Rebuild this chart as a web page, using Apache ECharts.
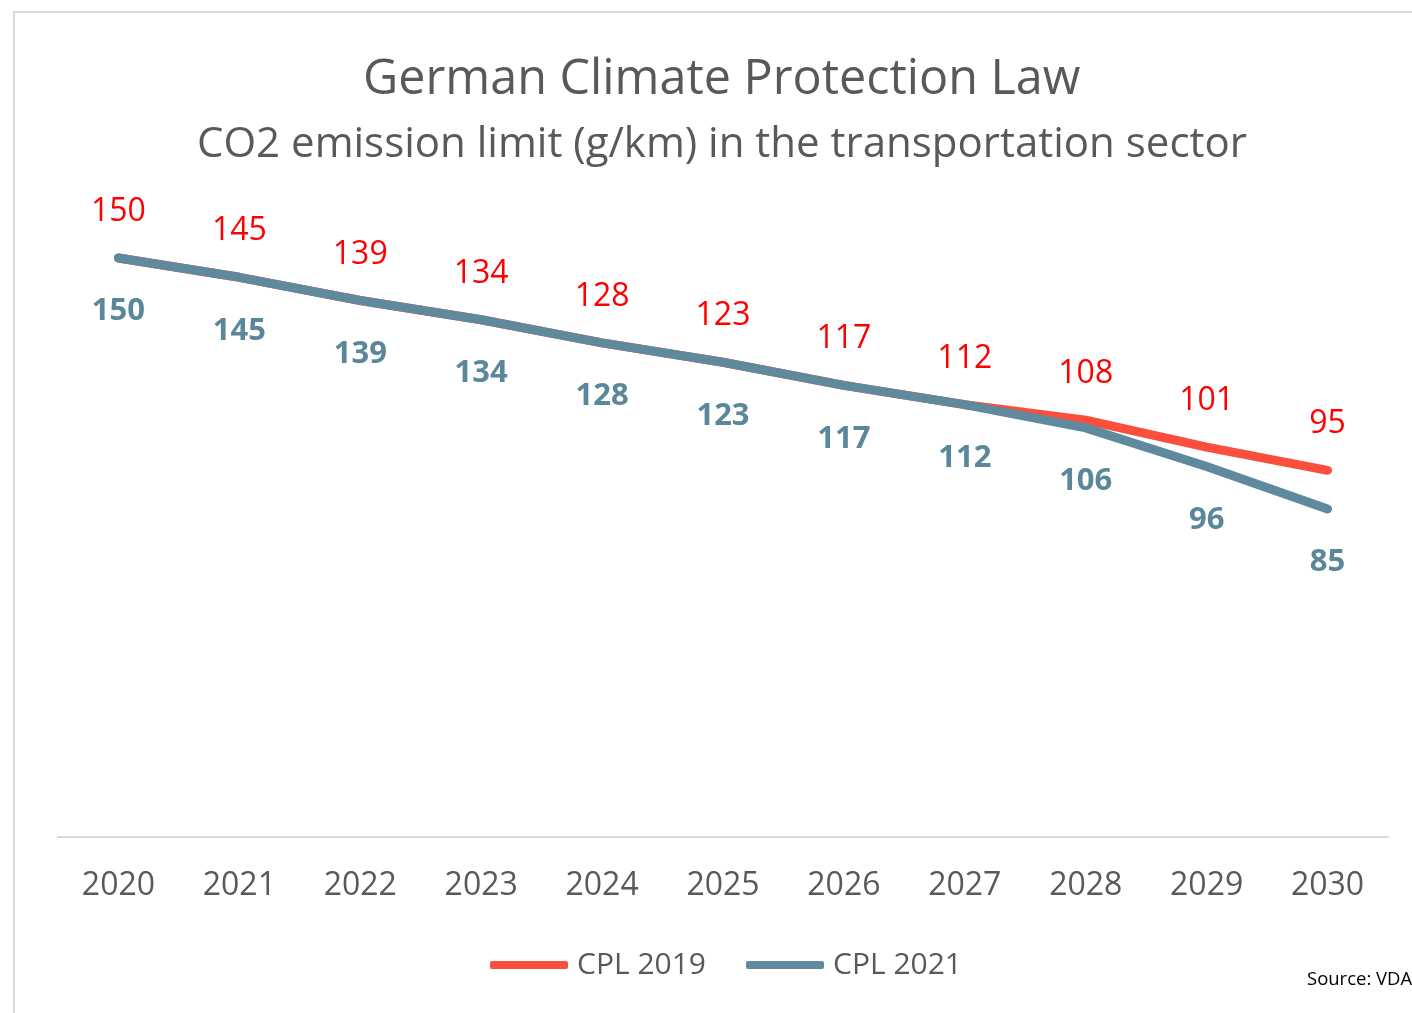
<!DOCTYPE html>
<html lang="en">
<head>
    <meta charset="UTF-8">
    <title>German Climate Protection Law</title>
    <script src="https://cdn.jsdelivr.net/npm/echarts@6/dist/echarts.min.js"></script>
    <style>
        html, body {margin: 0; padding: 0; background: #fff;}
        #main {width: 1412px; height: 1013px;}
    </style>
</head>
<body>
<div id="main"></div>

<script type="text/javascript">
    var years = ['2020', '2021', '2022', '2023', '2024', '2025', '2026', '2027', '2028', '2029', '2030'];
    var cpl2019 = [150, 145, 139, 134, 128, 123, 117, 112, 108, 101, 95];
    var cpl2021 = [150, 145, 139, 134, 128, 123, 117, 112, 106, 96, 85];

    var font = '"Open Sans", "Noto Sans", sans-serif';
    var myChart = echarts.init(document.getElementById('main'));

    var option = {
        backgroundColor: '#fff',
        textStyle: {fontFamily: font},
        graphic: [
            {
                type: 'rect',
                shape: {x: 14, y: 12, width: 1420, height: 1020},
                style: {fill: 'none', stroke: '#d9d9d9', lineWidth: 2},
                silent: true
            },
            {
                type: 'text',
                left: 1307,
                top: 970,
                style: {text: 'Source: VDA', fill: '#000', font: '18.5px ' + font}
            }
        ],
        title: [
            {
                text: 'German Climate Protection Law',
                left: 358,
                top: 51,
                textStyle: {fontFamily: font, fontSize: 48.5, fontWeight: 'normal', color: '#595959'}
            },
            {
                text: 'CO2 emission limit (g/km) in the transportation sector',
                left: 192,
                top: 119,
                textStyle: {fontFamily: font, fontSize: 42, fontWeight: 'normal', color: '#595959'}
            }
        ],
        legend: {
            bottom: 28,
            left: 485,
            itemWidth: 78,
            itemHeight: 8,
            itemGap: 40,
            icon: 'roundRect',
            textStyle: {fontFamily: font, fontSize: 30, color: '#595959', padding: [0, 0, 0, 4]},
            data: ['CPL 2019', 'CPL 2021']
        },
        grid: {left: 58, right: 24, top: 65, bottom: 176},
        xAxis: {
            type: 'category',
            data: years,
            boundaryGap: true,
            axisLine: {lineStyle: {color: '#d9d9d9', width: 2}},
            axisTick: {show: false},
            axisLabel: {fontFamily: font, fontSize: 32, color: '#595959', margin: 33}
        },
        yAxis: {
            type: 'value',
            min: 0,
            max: 200,
            show: false,
            splitLine: {show: false}
        },
        series: [
            {
                name: 'CPL 2019',
                type: 'line',
                data: cpl2019,
                symbol: 'circle',
                symbolSize: 0.1,
                showSymbol: true,
                color: '#fa4f3c',
                lineStyle: {color: '#fa4f3c', width: 9, cap: 'round', join: 'round'},
                label: {
                    show: true,
                    position: 'top',
                    distance: 30,
                    fontFamily: font,
                    fontSize: 32,
                    color: '#ff0000'
                }
            },
            {
                name: 'CPL 2021',
                type: 'line',
                data: cpl2021,
                symbol: 'circle',
                symbolSize: 0.1,
                showSymbol: true,
                color: '#5f8a9e',
                lineStyle: {color: '#5f8a9e', width: 9, cap: 'round', join: 'round'},
                label: {
                    show: true,
                    position: 'bottom',
                    distance: 38,
                    fontFamily: font,
                    fontSize: 31,
                    fontWeight: 'bold',
                    color: '#5b879b'
                }
            }
        ]
    };

    myChart.setOption(option);
</script>
</body>
</html>
